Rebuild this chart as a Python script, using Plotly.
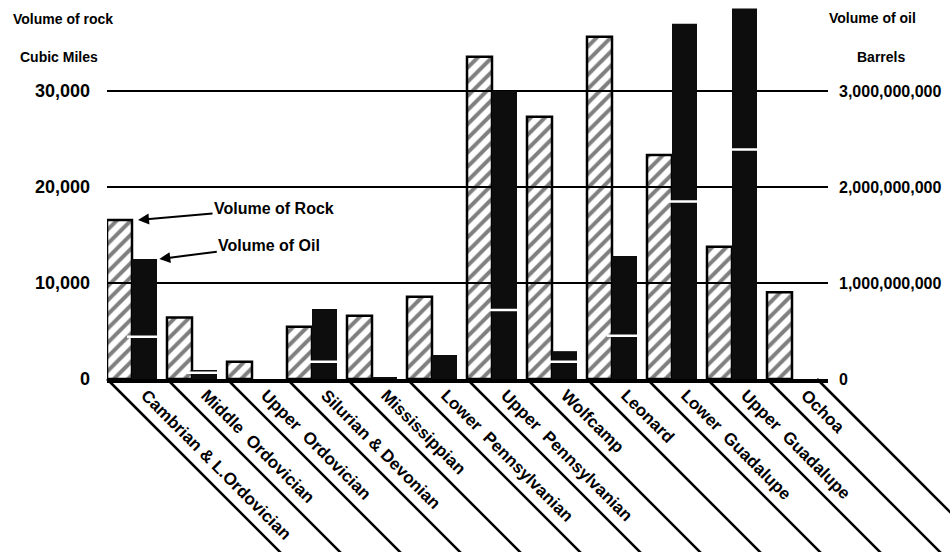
import plotly.graph_objects as go

# ---- data ----
categories = ["Cambrian & L.Ordovician", "Middle  Ordovician", "Upper  Ordovician",
              "Silurian & Devonian", "Mississippian", "Lower  Pennsylvanian",
              "Upper  Pennsylvanian", "Wolfcamp", "Leonard", "Lower  Guadalupe",
              "Upper  Guadalupe", "Ochoa"]
rock_cu_miles = [16560, 6400, 1800, 5450, 6600, 8580, 33570, 27330, 35660, 23330, 13780, 9030]
oil_total_bbl = [1.25e9, 0.094e9, 0.0, 0.73e9, 0.015e9, 0.25e9, 3.00e9, 0.29e9, 1.28e9, 3.70e9, 3.86e9, 0.0]
oil_break_bbl = [0.44e9, 0.065e9, 0.0, 0.18e9, 0.0, 0.0, 0.72e9, 0.18e9, 0.45e9, 1.85e9, 2.39e9, 0.0]
left_ticks = [0, 10000, 20000, 30000]
left_ticktext = ["0", "10,000", "20,000", "30,000"]
right_ticks = [0, 1e9, 2e9, 3e9]
right_ticktext = ["0", "1,000,000,000", "2,000,000,000", "3,000,000,000"]

FONT = "Liberation Sans"
idx = list(range(len(categories)))
BW = 0.4167  # bar width in category units

# layout geometry (pixels)
W, H = 950, 552
ML, MR, MT, MB = 107, 122, 4, 173
PW, PH = W - ML - MR, H - MT - MB
XR = [-BW, -BW + PW / 60.0]
YR = [0, PH / 96.0 * 10000]
Y2R = [0, PH / 96.0 * 1e9]

def px2x(px):
    return (px - ML) / PW

def py2y(py):
    return (H - MB - py) / PH

fig = go.Figure()

# rock (hatched)
fig.add_trace(go.Bar(
    x=idx, y=rock_cu_miles, width=BW, offset=-BW, name="Volume of Rock",
    marker=dict(color="rgba(0,0,0,0)",
                line=dict(color="black", width=2.5),
                pattern=dict(shape="/", fgcolor="black", bgcolor="rgba(0,0,0,0)",
                             size=10, solidity=0.4, fillmode="overlay")),
    yaxis="y", showlegend=False, hoverinfo="skip"))

# oil bars
fig.add_trace(go.Bar(
    x=idx, y=oil_total_bbl, width=BW, offset=0, name="Volume of Oil",
    marker=dict(color="#0d0d0d", line=dict(width=0)),
    yaxis="y2", showlegend=False, hoverinfo="skip"))

# white break lines inside oil bars
brk_x = [i + BW / 2 for i, b, t in zip(idx, oil_break_bbl, oil_total_bbl) if 0 < b < t]
brk_y = [b for b, t in zip(oil_break_bbl, oil_total_bbl) if 0 < b < t]
fig.add_trace(go.Scatter(
    x=brk_x, y=brk_y, mode="markers", yaxis="y2",
    marker=dict(symbol="line-ew", size=25, color="white",
                line=dict(color="white", width=2.5)),
    showlegend=False, hoverinfo="skip"))

# diagonal guide lines for the category labels
L = 300
line_starts = [i - BW for i in idx] + [idx[-1] + BW]
for xs in line_starts:
    x0 = (xs - XR[0]) / (XR[1] - XR[0])
    fig.add_shape(type="line", xref="paper", yref="paper",
                  x0=x0, y0=0, x1=x0 + L / PW, y1=-L / PH,
                  line=dict(color="black", width=2.5))

ann = []
# axis titles
for text, px, py in [("Volume of rock", 11, 19), ("Cubic Miles", 18, 57),
                     ("Volume of oil", 827, 18), ("Barrels", 855, 57)]:
    ann.append(dict(text=text, xref="paper", yref="paper", x=px2x(px), y=py2y(py),
                    xanchor="left", yanchor="middle", showarrow=False,
                    font=dict(family=FONT, size=14, color="black", weight="bold")))
# arrows
ann.append(dict(text="Volume of Rock", x=0.1, y=rock_cu_miles[0], xref="x", yref="y",
                ax=136, ay=-12, showarrow=True, arrowhead=2, arrowsize=1.1,
                arrowwidth=2, arrowcolor="black",
                font=dict(family=FONT, size=16, color="black", weight="bold")))
ann.append(dict(text="Volume of Oil", x=0.455, y=oil_total_bbl[0], xref="x", yref="y2",
                ax=110, ay=-14, showarrow=True, arrowhead=2, arrowsize=1.1,
                arrowwidth=2, arrowcolor="black",
                font=dict(family=FONT, size=16, color="black", weight="bold")))

fig.update_layout(
    width=W, height=H,
    margin=dict(l=ML, r=MR, t=MT, b=MB, pad=0),
    paper_bgcolor="white", plot_bgcolor="white",
    barmode="overlay", showlegend=False,
    annotations=ann,
    xaxis=dict(range=XR, tickvals=idx, ticktext=categories, tickangle=45,
               showgrid=False, zeroline=False, showline=True, linecolor="black",
               linewidth=3.5, layer="above traces", ticks="",
               ticklabelshift=14, ticklabelstandoff=-4,
               tickfont=dict(family=FONT, size=17, color="black", weight="bold")),
    yaxis=dict(range=YR, tickvals=left_ticks, ticktext=left_ticktext,
               showgrid=True, gridcolor="black", gridwidth=2, zeroline=False,
               showline=False, ticks="", ticklabelstandoff=16,
               tickfont=dict(family=FONT, size=18, color="black", weight="bold")),
    yaxis2=dict(range=Y2R, overlaying="y", side="right", tickvals=right_ticks,
                ticktext=right_ticktext, showgrid=False, zeroline=False,
                showline=False, ticks="", ticklabelstandoff=10,
                tickfont=dict(family=FONT, size=16, color="black", weight="bold")),
)

fig.write_html("out.html", config={"displayModeBar": False},
               post_script="document.body.style.margin='0px';document.body.style.overflow='hidden';")
